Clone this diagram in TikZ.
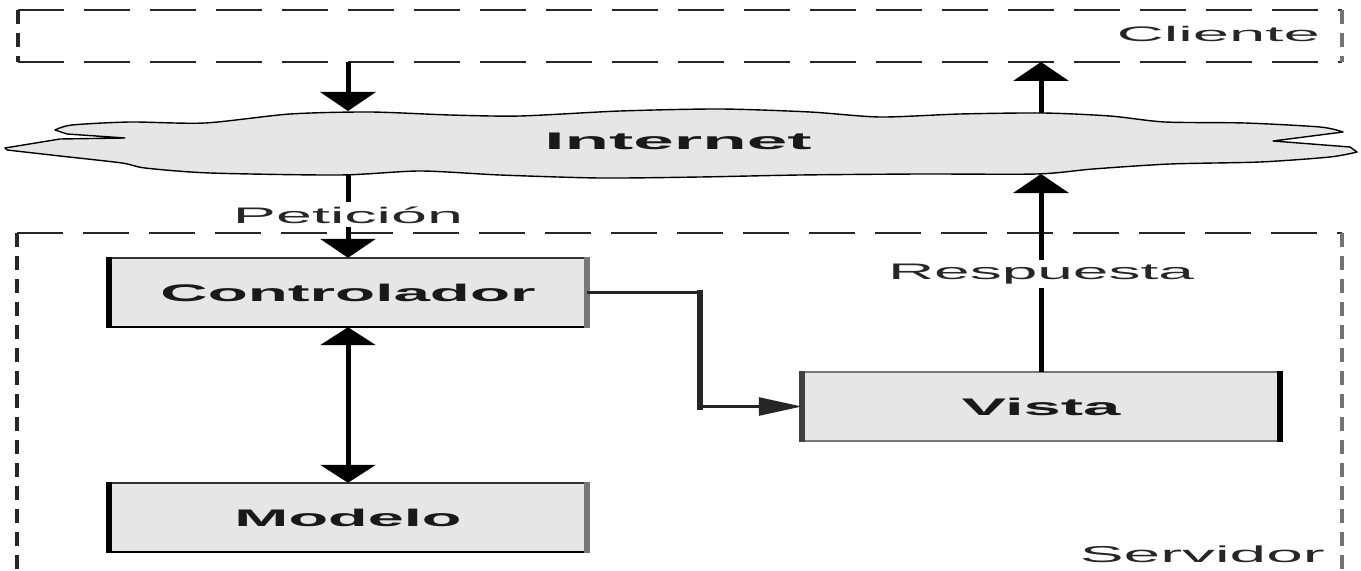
\documentclass[tikz,border=0pt]{standalone}
\usepackage{graphicx}
\usepackage{fontspec}
\setmainfont{Liberation Sans}
\usetikzlibrary{arrows.meta}

\definecolor{boxgray}{HTML}{E6E6E6}
\definecolor{edgegray}{HTML}{777777}

% wide lettering: stretch a text horizontally to a given width
\newcommand\widetext[2]{\resizebox{#1}{\height}{#2}}

% four sides of a component box, vertical sides heavier than horizontal ones
\newcommand\boxsides[5]{%
  \draw[line width=2bp, draw=#2] (#1.north west) -- (#1.north east);
  \draw[line width=2bp, draw=#4] (#1.south west) -- (#1.south east);
  \draw[line width=5.5bp, draw=#5] ([yshift=1bp]#1.north west) -- ([yshift=-1bp]#1.south west);
  \draw[line width=5.5bp, draw=#3] ([yshift=1bp]#1.north east) -- ([yshift=-1bp]#1.south east);
}

\tikzset{
  x=1bp, y=-1bp,
  component/.style={fill=boxgray, minimum width=478bp, minimum height=69bp,
    inner sep=0pt, text=black!90, font=\bfseries\fontsize{24bp}{24bp}\selectfont},
  cloudshape/.style={fill=boxgray, draw=black, line width=1.4bp, line join=round},
  hdash/.style={draw=black!85, line width=1.3bp, dash pattern=on 46bp off 20bp},
  vdash/.style={line width=3.5bp, dash pattern=on 14bp off 9bp},
  bigarrow/.style={draw=black, line width=5bp, -{Triangle[length=19bp,width=55bp]}},
  bigboth/.style={draw=black, line width=5bp,
    {Triangle[length=18bp,width=55bp]}-{Triangle[length=18bp,width=55bp]}},
  flowthin/.style={draw=black!85, line width=2.5bp},
  flowthick/.style={draw=black!85, line width=6bp, line cap=rect},
  tagtext/.style={inner sep=0pt, text=black!85, anchor=base},
  arrowtag/.style={fill=white, inner xsep=2bp, inner ysep=4bp, text=black!85,
    anchor=base, font=\fontsize{22.5bp}{22.5bp}\selectfont},
}

\begin{document}
\begin{tikzpicture}
\useasboundingbox (0,0) rectangle (1361,571);

% Cliente frame
\draw[hdash] (18,10) -- (1342,10);
\draw[hdash] (18,62) -- (1342,62);
\draw[vdash, draw=black!85] (18,10) -- (18,62);
\draw[vdash, draw=black!55] (1342,10) -- (1342,62);
\node[tagtext, anchor=base east, font=\fontsize{21bp}{21bp}\selectfont] (cliente) at (1320,42)
  {\widetext{203bp}{Cliente}};

% Servidor frame (open at the bottom)
\draw[hdash] (17,233) -- (1342,233);
\draw[vdash, draw=black!85] (17,233) -- (17,590);
\draw[vdash, draw=black!55] (1342,233) -- (1342,590);
\node[tagtext, anchor=base east, font=\fontsize{23bp}{23bp}\selectfont] (servidor) at (1325,562)
  {\widetext{245bp}{Servidor}};

% Internet cloud
\path[cloudshape] (55,130)
  -- plot[smooth, tension=0.45] coordinates {(55,130) (72,125) (130,122) (205,123)
     (290,114) (370,112) (450,115) (520,116) (620,111) (720,109) (810,112) (880,117)
     (960,114) (1043,113) (1110,116) (1165,122) (1245,123) (1320,127) (1343,132)}
  -- (1273,141) -- (1350,147) -- (1357,152)
  -- plot[smooth, tension=0.45] coordinates {(1357,152) (1330,157) (1260,162)
     (1170,164) (1093,169) (1037,174) (920,174) (800,175) (700,177) (600,178)
     (500,175) (420,171) (340,175) (210,173) (145,168) (122,163) (60,156) (7,150)}
  -- (5,148) -- (60,139) -- (125,138) -- (67,134) -- cycle;
\node[tagtext, font=\bfseries\fontsize{24bp}{24bp}\selectfont, text=black!90] (internet) at (678,150)
  {\widetext{267bp}{Internet}};

\coordinate (inetTopL) at (348,111);
\coordinate (inetBotL) at (348,175);
\coordinate (inetTopR) at (1041,113);
\coordinate (inetBotR) at (1041,174);
\coordinate (clienteL) at (348,62);
\coordinate (clienteR) at (1041,62);

% components
\node[component] (ctrl) at (348,292.5) {\widetext{375bp}{Controlador}};
\node[component] (modelo) at (348,517.5) {\widetext{227bp}{Modelo}};
\node[component] (vista) at (1041,406.5) {\widetext{159bp}{Vista}};
\boxsides{ctrl}{black!80}{edgegray}{black}{black}
\boxsides{modelo}{black!80}{edgegray}{black}{black}
\boxsides{vista}{edgegray}{black}{edgegray}{black!75}

% request and response paths
\draw[bigarrow] (clienteL) -- (inetTopL);
\draw[bigarrow] (inetTopR) -- (clienteR);
\draw[bigarrow] (inetBotL) -- (ctrl.north);
\node[arrowtag] (peticion) at (348,223) {\widetext{230bp}{Petición}};
\draw[bigarrow] (vista.north) -- (inetBotR);
\node[arrowtag] (respuesta) at (1041,279) {\widetext{306bp}{Respuesta}};

% controller <-> model
\draw[bigboth] (ctrl.south) -- (modelo.north);

% controller -> view
\coordinate (bendA) at (700,292.5);
\coordinate (bendB) at (700,406.5);
\draw[flowthin] (ctrl.east) -- (bendA);
\draw[flowthick] (bendA) -- (bendB);
\draw[flowthin, -{Triangle[length=43bp,width=18bp]}] (bendB) -- (vista.west);
\end{tikzpicture}
\end{document}
